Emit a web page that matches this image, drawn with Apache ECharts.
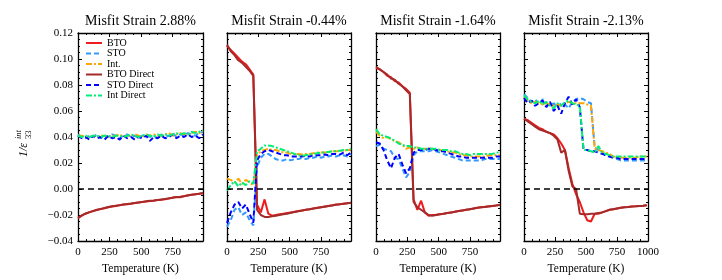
<!DOCTYPE html>
<html><head><meta charset="utf-8">
<script src="https://cdn.jsdelivr.net/npm/echarts@6/dist/echarts.min.js"></script>
<style>html,body{margin:0;padding:0;background:#fff}#c{width:722px;height:280px}</style>
</head><body><div id="c"></div>
<script>
const T = [0,30,60,90,120,150,180,210,240,270,300,330,360,390,420,450,480,510,540,570,600,630,660,690,720,750,780,810,840,870,900,930,960,990];
const titles = ['Misfit Strain 2.88%','Misfit Strain -0.44%','Misfit Strain -1.64%','Misfit Strain -2.13%'];
const seriesNames = ['BTO','STO','Int.','BTO Direct','STO Direct','Int Direct'];
const xMax = [990,990,990,1000];
const yTicks = [-0.04,-0.02,0.00,0.02,0.04,0.06,0.08,0.10,0.12];

// Panel 1: 2.88%
const p1_BTO = [-0.0225,-0.0205,-0.019,-0.018,-0.017,-0.0162,-0.0155,-0.0148,-0.014,-0.0135,-0.013,-0.0125,-0.012,-0.0117,-0.0113,-0.0108,-0.0104,-0.0100,-0.0097,-0.0093,-0.0090,-0.0085,-0.0082,-0.0078,-0.0074,-0.0066,-0.0062,-0.0064,-0.0055,-0.0048,-0.0044,-0.0040,-0.0037,-0.0032];
const p1_STO = [0.042,0.040,0.039,0.041,0.040,0.042,0.039,0.041,0.040,0.042,0.041,0.039,0.041,0.042,0.040,0.041,0.039,0.041,0.042,0.040,0.041,0.039,0.042,0.040,0.041,0.043,0.040,0.042,0.041,0.043,0.042,0.041,0.043,0.044];
const p1_Int = [0.041,0.041,0.040,0.040,0.041,0.040,0.041,0.041,0.040,0.041,0.041,0.042,0.040,0.041,0.041,0.042,0.041,0.040,0.042,0.041,0.042,0.041,0.041,0.042,0.043,0.041,0.042,0.043,0.042,0.042,0.043,0.044,0.043,0.045];
const p1_BTOD = [-0.0222,-0.0203,-0.0188,-0.0178,-0.0168,-0.016,-0.0153,-0.0146,-0.0139,-0.0133,-0.0128,-0.0124,-0.0119,-0.0115,-0.0112,-0.0107,-0.0103,-0.0099,-0.0095,-0.0091,-0.0088,-0.0084,-0.0080,-0.0076,-0.0072,-0.0068,-0.0062,-0.0060,-0.0055,-0.0050,-0.0045,-0.0041,-0.0036,-0.0031];
const p1_STOD = [0.041,0.039,0.040,0.038,0.041,0.039,0.040,0.038,0.041,0.039,0.040,0.038,0.041,0.039,0.040,0.038,0.040,0.039,0.041,0.037,0.040,0.039,0.041,0.039,0.040,0.042,0.039,0.041,0.040,0.042,0.040,0.041,0.039,0.042];
const p1_IntD = [0.041,0.040,0.041,0.040,0.041,0.041,0.040,0.041,0.041,0.040,0.041,0.041,0.040,0.041,0.042,0.041,0.040,0.041,0.042,0.041,0.040,0.042,0.041,0.042,0.041,0.042,0.043,0.042,0.043,0.042,0.044,0.043,0.044,0.045];

// Panel 2: -0.44%
const p2_BTO = [0.110,0.107,0.104,0.101,0.098,0.096,0.092,0.088,-0.012,-0.018,-0.008,-0.019,-0.0205,-0.020,-0.0195,-0.019,-0.0185,-0.018,-0.0175,-0.017,-0.0165,-0.016,-0.0155,-0.015,-0.0145,-0.014,-0.0135,-0.013,-0.0125,-0.012,-0.0118,-0.0113,-0.011,-0.0105];
const p2_STO = [-0.029,-0.024,-0.016,-0.014,-0.020,-0.018,-0.024,-0.028,0.017,0.024,0.027,0.027,0.025,0.023,0.022,0.022,0.023,0.022,0.023,0.023,0.024,0.023,0.024,0.024,0.025,0.024,0.025,0.025,0.026,0.025,0.026,0.026,0.025,0.027];
const p2_Int = [0.008,0.007,0.005,0.008,0.004,0.007,0.005,0.003,0.026,0.029,0.030,0.031,0.030,0.030,0.029,0.028,0.028,0.027,0.027,0.027,0.0265,0.027,0.027,0.0275,0.028,0.028,0.028,0.0285,0.029,0.029,0.029,0.0295,0.030,0.030];
const p2_BTOD = [0.111,0.106,0.103,0.099,0.097,0.094,0.091,0.087,-0.016,-0.020,-0.0215,-0.0215,-0.021,-0.0205,-0.020,-0.0195,-0.019,-0.0183,-0.0177,-0.0171,-0.0166,-0.016,-0.0156,-0.015,-0.0146,-0.0141,-0.0136,-0.0131,-0.0127,-0.0122,-0.0118,-0.0114,-0.011,-0.0106];
const p2_STOD = [-0.026,-0.018,-0.012,-0.010,-0.015,-0.012,-0.019,-0.026,0.022,0.027,0.029,0.030,0.029,0.028,0.027,0.026,0.026,0.025,0.025,0.025,0.025,0.0255,0.025,0.026,0.026,0.026,0.0265,0.026,0.027,0.027,0.0265,0.028,0.026,0.028];
const p2_IntD = [-0.001,0.003,0.006,0.002,0.005,0.003,0.006,0.004,0.029,0.031,0.0335,0.0335,0.033,0.032,0.031,0.030,0.029,0.028,0.027,0.026,0.0255,0.026,0.0265,0.027,0.0275,0.028,0.028,0.0285,0.029,0.029,0.0295,0.030,0.030,0.031];

// Panel 3: -1.64%
const p3_BTO = [0.093,0.092,0.090,0.087,0.086,0.083,0.082,0.079,0.077,0.074,-0.008,-0.016,-0.009,-0.018,-0.0205,-0.020,-0.0198,-0.0194,-0.019,-0.0185,-0.018,-0.0175,-0.017,-0.0165,-0.016,-0.0155,-0.015,-0.0145,-0.014,-0.0137,-0.0133,-0.013,-0.0126,-0.0122];
const p3_STO = [0.033,0.034,0.031,0.030,0.029,0.024,0.023,0.016,0.009,0.013,0.026,0.029,0.029,0.029,0.029,0.030,0.029,0.028,0.027,0.026,0.025,0.024,0.023,0.022,0.022,0.022,0.022,0.022,0.022,0.023,0.023,0.023,0.023,0.023];
const p3_Int = [0.044,0.041,0.039,0.040,0.038,0.037,0.036,0.034,0.031,0.032,0.031,0.032,0.030,0.031,0.031,0.031,0.030,0.030,0.029,0.029,0.028,0.028,0.027,0.026,0.026,0.025,0.025,0.025,0.025,0.025,0.026,0.026,0.026,0.026];
const p3_BTOD = [0.094,0.092,0.090,0.088,0.085,0.084,0.081,0.079,0.076,0.073,-0.010,-0.014,-0.016,-0.018,-0.020,-0.0205,-0.020,-0.0195,-0.019,-0.0185,-0.018,-0.0175,-0.017,-0.0165,-0.016,-0.0155,-0.015,-0.0145,-0.014,-0.0138,-0.0134,-0.013,-0.0127,-0.0123];
const p3_STOD = [0.036,0.035,0.030,0.022,0.016,0.024,0.027,0.019,0.012,0.016,0.028,0.030,0.030,0.030,0.031,0.031,0.030,0.029,0.029,0.028,0.027,0.026,0.025,0.025,0.024,0.024,0.024,0.024,0.024,0.024,0.024,0.024,0.025,0.025];
const p3_IntD = [0.046,0.042,0.041,0.040,0.039,0.037,0.035,0.034,0.033,0.033,0.032,0.032,0.031,0.031,0.031,0.031,0.031,0.030,0.030,0.030,0.029,0.029,0.028,0.027,0.027,0.026,0.027,0.027,0.027,0.027,0.027,0.027,0.028,0.028];

// Panel 4: -2.13%
const p4_BTO = [0.054,0.053,0.051,0.049,0.047,0.046,0.044,0.043,0.042,0.039,0.035,0.030,0.016,0.004,-0.004,-0.010,-0.018,-0.024,-0.025,-0.019,-0.019,-0.018,-0.017,-0.016,-0.0155,-0.015,-0.0145,-0.014,-0.0138,-0.0135,-0.0133,-0.013,-0.0128,-0.0125];
const p4_STO = [0.073,0.070,0.067,0.069,0.065,0.069,0.066,0.064,0.066,0.063,0.066,0.065,0.062,0.067,0.069,0.070,0.069,0.067,0.066,0.032,0.030,0.028,0.026,0.025,0.024,0.023,0.022,0.022,0.022,0.022,0.022,0.022,0.022,0.022];
const p4_Int = [0.071,0.068,0.066,0.067,0.066,0.065,0.066,0.065,0.064,0.065,0.064,0.066,0.067,0.066,0.066,0.066,0.066,0.065,0.064,0.031,0.030,0.029,0.028,0.027,0.025,0.024,0.024,0.024,0.024,0.024,0.024,0.025,0.025,0.025];
const p4_BTOD = [0.054,0.052,0.050,0.048,0.046,0.045,0.044,0.043,0.041,0.038,0.028,0.030,0.014,0.002,0.000,-0.019,-0.0195,-0.0195,-0.019,-0.019,-0.0185,-0.018,-0.017,-0.016,-0.0155,-0.015,-0.0145,-0.014,-0.0138,-0.0135,-0.0133,-0.013,-0.0128,-0.0125];
const p4_STOD = [0.070,0.066,0.068,0.064,0.066,0.068,0.063,0.067,0.060,0.064,0.058,0.066,0.071,0.065,0.069,0.063,0.030,0.030,0.029,0.029,0.028,0.027,0.026,0.025,0.024,0.024,0.023,0.023,0.023,0.023,0.023,0.023,0.023,0.023];
const p4_IntD = [0.072,0.069,0.067,0.066,0.068,0.065,0.067,0.064,0.062,0.066,0.064,0.067,0.068,0.066,0.065,0.064,0.030,0.030,0.029,0.028,0.033,0.028,0.027,0.026,0.025,0.025,0.025,0.025,0.025,0.025,0.025,0.025,0.025,0.025];

const panels = [
  [p1_BTO,p1_STO,p1_Int,p1_BTOD,p1_STOD,p1_IntD],
  [p2_BTO,p2_STO,p2_Int,p2_BTOD,p2_STOD,p2_IntD],
  [p3_BTO,p3_STO,p3_Int,p3_BTOD,p3_STOD,p3_IntD],
  [p4_BTO,p4_STO,p4_Int,p4_BTOD,p4_STOD,p4_IntD]
];

const FONT = '"Liberation Serif","DejaVu Serif",serif';
const styles = [
  {color:'#ee1c1c', type:'solid'},
  {color:'#3399ff', type:[5,3]},
  {color:'#ffa500', type:[6,2,2,2]},
  {color:'#a52a2a', type:'solid'},
  {color:'#0000ff', type:[5,3]},
  {color:'#00ee76', type:[6,2,2,2]}
];
const gLefts = [78,227,376,524];
const gWidths = [125,124,124,124];
const gTop = 33, gHeight = 215;

const grids=[], xAxes=[], yAxes=[], series=[], graphics=[];
const tick = {show:true, inside:true, length:4, lineStyle:{color:'#000',width:1}};
const minor = {show:true, splitNumber:4, length:2, lineStyle:{color:'#000',width:1}};
const minorY = {show:true, splitNumber:4, length:2, lineStyle:{color:'#000',width:1}};
const fmtY = v => (v<0?'\u2212':'') + Math.abs(v).toFixed(2);
const axLine = {show:true, onZero:false, lineStyle:{color:'#000', width:1.3}};

for (let p=0;p<4;p++){
  grids.push({left:gLefts[p], top:gTop, width:gWidths[p], height:gHeight, show:false});
  const xb = {type:'value', gridIndex:p, min:0, max:xMax[p], interval:250,
    axisLine:axLine, axisTick:tick, minorTick:minor, splitLine:{show:false}, minorSplitLine:{show:false}};
  xAxes.push(Object.assign({}, xb, {position:'bottom',
    axisLabel:{show:true, color:'#000', fontFamily:FONT, fontSize:11, margin:6, showMaxLabel:p===3, formatter: v => String(v)},
    name:'Temperature (K)', nameLocation:'middle', nameGap:22, nameTextStyle:{color:'#000', fontFamily:FONT, fontSize:11.5}}));
  xAxes.push(Object.assign({}, xb, {position:'top', axisLabel:{show:false}}));
  const yb = {type:'value', gridIndex:p, min:-0.04, max:0.12, interval:0.02,
    axisLine:axLine, axisTick:tick, minorTick:minorY, splitLine:{show:false}, minorSplitLine:{show:false}};
  yAxes.push(Object.assign({}, yb, {position:'left',
    axisLabel:{show:p===0, color:'#000', fontFamily:FONT, fontSize:11, margin:5, formatter:fmtY}}));
  yAxes.push(Object.assign({}, yb, {position:'right', axisLabel:{show:false}}));
  for (let s=0;s<6;s++){
    const vals = panels[p][s];
    const ser = {
      type:'line', name:seriesNames[s], xAxisIndex:2*p, yAxisIndex:2*p,
      data: T.map((t,i)=>[t, vals[i]]), showSymbol:false, symbol:'none', silent:true, animation:false,
      lineStyle:{color:styles[s].color, type:styles[s].type, width:2}, itemStyle:{color:styles[s].color},
      z: 3+s
    };
    if (s===0) ser.markLine = {silent:true, symbol:'none', label:{show:false}, animation:false,
      lineStyle:{color:'#000', type:[6,4], width:1.6}, data:[{yAxis:0}], z:20};
    series.push(ser);
  }
  graphics.push({type:'text', x: gLefts[p] + gWidths[p]/2, y: 14, style:{text:titles[p], fill:'#000', font:'14px '+FONT, textAlign:'center'}});
}

// y-axis label 1/ε_33^int
graphics.push({type:'group', x:30, y:142, rotation:Math.PI/2, children:[
  {type:'text', x:-15, y:-6, style:{text:'1/\u03b5', fill:'#000', font:'italic 12px '+FONT, textAlign:'left', textVerticalAlign:'middle'}},
  {type:'text', x:3, y:-11, style:{text:'int', fill:'#000', font:'italic 8.5px '+FONT, textVerticalAlign:'middle'}},
  {type:'text', x:3, y:-1, style:{text:'33', fill:'#000', font:'8.5px '+FONT, textVerticalAlign:'middle'}}
]});

const chart = echarts.init(document.getElementById('c'), null, {renderer:'canvas'});
chart.setOption({
  backgroundColor:'#fff',
  animation:false,
  grid:grids, xAxis:xAxes, yAxis:yAxes, series:series, graphic:graphics,
  legend:{data:seriesNames, orient:'vertical', left:85, top:38, itemWidth:16, itemHeight:8, itemGap:0.5,
    itemStyle:{opacity:0}, textStyle:{fontFamily:FONT, fontSize:10, color:'#000', padding:[0,0,0,0]}, selectedMode:false, backgroundColor:'transparent', padding:0}
});
</script></body></html>
